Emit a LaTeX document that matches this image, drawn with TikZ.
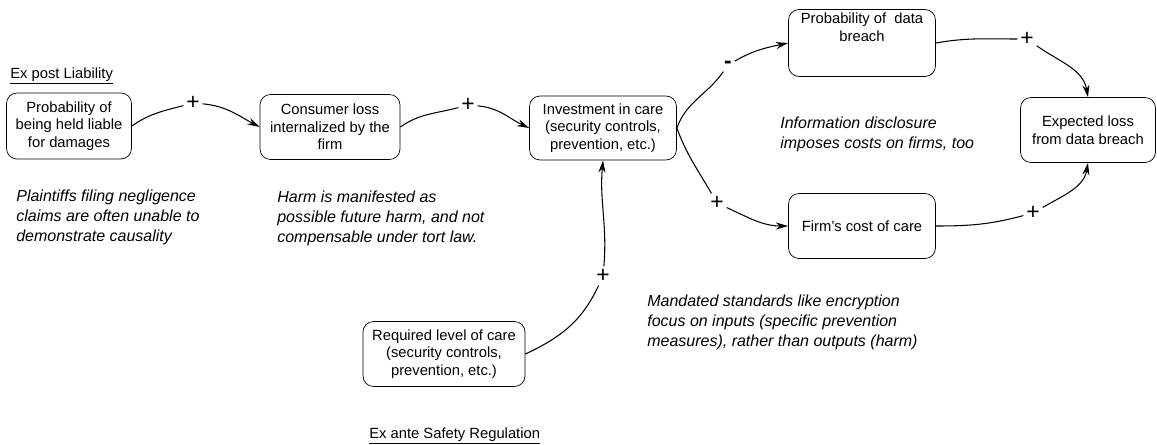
\documentclass[tikz,border=0pt]{standalone}
\usepackage{fontspec}
\setmainfont{Liberation Sans}
\usepackage{tikz}
\usetikzlibrary{arrows.meta,positioning}

\begin{document}
\begin{tikzpicture}[
    varbox/.style={draw, rounded corners=6pt, align=center, font=\fontsize{8.4}{10}\selectfont, inner sep=2pt},
    sign/.style={font=\fontsize{13}{13}\selectfont, inner sep=1.5pt},
    note/.style={align=left, font=\fontsize{9.1}{11.3}\selectfont\itshape, inner sep=0pt},
    link/.style={line width=0.6pt},
    arr/.style={line width=0.6pt, -{Stealth[length=7pt,width=4pt]}}
  ]
                \useasboundingbox (0,0) rectangle (23.14,8.88);
                \node[varbox, minimum width=2.5cm, minimum height=1.32cm] (liable) at (1.38,6.36) {Probability of\\being held liable\\for damages};
                \node[varbox, minimum width=2.8cm, minimum height=1.3cm] (loss) at (6.6,6.34) {Consumer loss\\internalized by the\\firm};
                \node[varbox, minimum width=2.94cm, minimum height=1.28cm] (invest) at (12.06,6.32) {Investment in care\\(security controls,\\prevention, etc.)};
                \node[varbox, minimum width=2.94cm, minimum height=1.26cm] (breach) at (17.24,8.02) {Probability of~ data\\breach\\[8pt]};
                \node[varbox, minimum width=2.94cm, minimum height=1.3cm] (cost) at (17.24,4.36) {Firm's cost of care};
                \node[varbox, minimum width=2.7cm, minimum height=1.3cm] (expected) at (21.76,6.28) {Expected loss\\from data breach};
                \node[varbox, minimum width=3.24cm, minimum height=1.3cm] (required) at (8.88,1.8) {Required level of care\\(security controls,\\prevention, etc.)};
                \node[sign] (s1) at (3.86,6.82) {+};
                \node[sign] (s2) at (9.36,6.78) {+};
                \node[sign] (s3) at (14.56,7.58) {\textbf{-}};
                \node[sign] (s4) at (20.54,8.1) {+};
                \node[sign] (s5) at (14.34,4.82) {+};
                \node[sign] (s6) at (20.66,4.62) {+};
                \node[sign] (s7) at (12.06,3.36) {+};
                \draw[link] (liable.east) to[out=35, in=195] (s1);
                \draw[arr] (s1) to[out=-5, in=152] (loss.west);
                \draw[link] (loss.east) to[out=35, in=195] (s2);
                \draw[arr] (s2) to[out=-5, in=155] (invest.west);
                \draw[link] (invest.east) to[out=70, in=235] (s3);
                \draw[arr] (s3) to[out=30, in=192] (breach.west);
                \draw[link] (invest.east) to[out=-70, in=120] (s5);
                \draw[arr] (s5) to[out=-25, in=180] (cost.west);
                \draw[link] (breach.east) to[out=10, in=180] (s4);
                \draw[arr] (s4) to[out=-35, in=100] (expected.north);
                \draw[link] (cost.east) to[out=0, in=195] (s6);
                \draw[arr] (s6) to[out=30, in=-100] (expected.south);
                \draw[link] (required.east) to[out=25, in=-115] (s7);
                \draw[arr] (s7) to[out=85, in=-95] (invest.south);
                \node[anchor=west, font=\fontsize{8.4}{10}\selectfont, inner sep=0pt] (expost) at (0.2,7.36) {\underline{Ex post Liability}};
                \node[anchor=west, font=\fontsize{8.4}{10}\selectfont, inner sep=0pt] (exante) at (7.38,0.16) {\underline{Ex ante Safety Regulation}};
                \node[note, anchor=north west] (plaintiffs) at (0.32,5.08) {Plaintiffs filing negligence\\claims are often unable to\\demonstrate causality};
                \node[note, anchor=north west] (harm) at (5.54,5.06) {Harm is manifested as\\possible future harm, and not\\compensable under tort law.};
                \node[note, anchor=north west] (disclosure) at (15.6,6.54) {Information disclosure\\imposes costs on firms, too};
                \node[note, anchor=north west] (mandated) at (12.94,2.98) {Mandated standards like encryption\\focus on inputs (specific prevention\\measures), rather than outputs (harm)};
            \end{tikzpicture}
\end{document}
